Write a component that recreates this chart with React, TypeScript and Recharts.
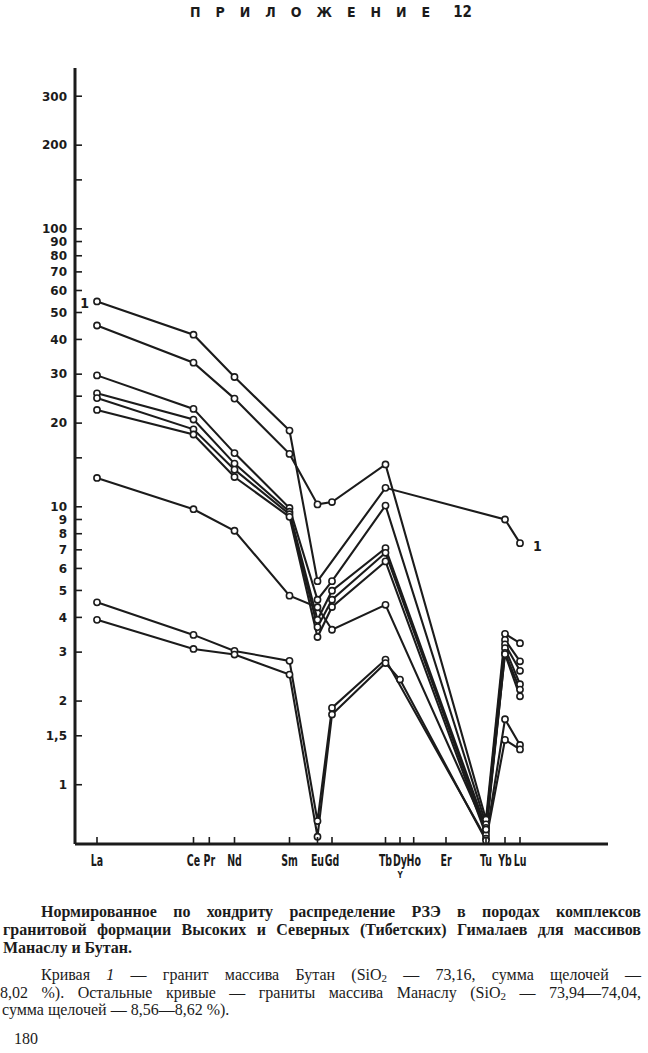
import React from 'react';
import { LineChart, Line, XAxis, YAxis } from 'recharts';

// Rare earth elements on the abscissa (hand-spaced scale of the original diagram)
const elements = ['La', 'Ce', 'Pr', 'Nd', 'Sm', 'Eu', 'Gd', 'Tb', 'Dy', 'Ho', 'Er', 'Tu', 'Yb', 'Lu'];
const elementAbscissa = [22, 118.5, 134.3, 159.5, 214.5, 242.5, 257, 310.5, 325, 338.7, 371, 411, 430, 445];
const elementSubLabels = ['', '', '', '', '', '', '', '', 'Y', '', '', '', '', ''];

// Chondrite-normalised values (null = not determined)
const N = null;
const curve1 = [54.8, 41.6, N, 29.3, 18.8, 5.4, N, 11.7, N, N, N, N, 9.0, 7.4];
const manasluA = [44.9, 33.0, N, 24.5, 15.5, 10.2, 10.4, 14.2, N, N, N, 0.75, 3.49, 3.23];
const manasluB = [29.7, 22.5, N, 15.6, 9.9, 4.63, 5.4, 10.1, N, N, N, 0.72, 3.32, 2.78];
const manasluC = [25.6, 20.6, N, 14.3, 9.6, 3.92, 4.99, 7.1, N, N, N, 0.7, 3.2, 2.57];
const manasluD = [24.6, 19.0, N, 13.6, 9.4, 3.69, 4.63, 6.83, N, N, N, 0.68, 3.1, 2.3];
const manasluE = [22.3, 18.2, N, 12.8, 9.2, 3.4, 4.36, 6.36, N, N, N, 0.66, 2.98, 2.2];
const manasluF = [12.7, 9.8, N, 8.2, 4.79, 4.35, 3.61, 4.44, N, N, N, 0.69, 2.95, 2.08];
const manasluG = [4.53, 3.46, N, 3.03, 2.79, 0.74, 1.89, 2.82, N, N, N, 0.64, 1.72, 1.39];
const manasluH = [3.92, 3.08, N, 2.94, 2.49, 0.65, 1.79, 2.74, 2.39, N, N, 0.63, 1.45, 1.34];

const seriesKeys = ['c1', 'a', 'b', 'c', 'd', 'e', 'f', 'g', 'h'];
const seriesValues = [curve1, manasluA, manasluB, manasluC, manasluD, manasluE, manasluF, manasluG, manasluH];

// Logarithmic ordinate
const yTickValues = [1, 1.5, 2, 3, 4, 5, 6, 7, 8, 9, 10, 15, 20, 25, 30, 40, 50, 60, 70, 80, 90, 100, 150, 200, 300];
const yTickTexts = ['1', '1,5', '2', '3', '4', '5', '6', '7', '8', '9', '10', '', '20', '', '30', '40', '50', '60', '70', '80', '90', '100', '', '200', '300'];

const data = elements.map((el, i) => {
  const row: any = { el, x: elementAbscissa[i] };
  seriesKeys.forEach((k, j) => {
    row[k] = seriesValues[j][i];
  });
  return row;
});

const INK = '#1b1b1b';
const SANS_C = '"DejaVu Sans Condensed", "DejaVu Sans", sans-serif';
const SANS = '"DejaVu Sans", sans-serif';
const SERIF = '"Liberation Serif", "DejaVu Serif", serif';

const XTick = (props: any) => {
  const { x, y, payload } = props;
  const i = elementAbscissa.indexOf(payload.value);
  return (
    <g>
      <line x1={x} y1={y} x2={x} y2={y - 7} stroke={INK} strokeWidth={1.6} />
      <text
        transform={`translate(${x},${y + 22}) scale(0.7,1)`}
        x={0}
        y={0}
        textAnchor="middle"
        fontFamily={SANS_C}
        fontWeight="bold"
        fontSize={15}
        fill={INK}
      >
        {elements[i]}
      </text>
      {elementSubLabels[i] ? (
        <text x={x} y={y + 34} textAnchor="middle" fontFamily={SANS_C} fontWeight="bold" fontSize={8} fill={INK}>
          {elementSubLabels[i]}
        </text>
      ) : null}
    </g>
  );
};

const YTick = (props: any) => {
  const { x, y, payload } = props;
  const i = yTickValues.indexOf(payload.value);
  return (
    <g>
      <line x1={x} y1={y} x2={x + 7} y2={y} stroke={INK} strokeWidth={1.6} />
      <text x={x - 8} y={y} dy="0.36em" textAnchor="end" fontFamily={SANS} fontWeight="bold" fontSize={12} fill={INK}>
        {yTickTexts[i]}
      </text>
    </g>
  );
};

const curveLabel = (p: any) => {
  if (p.index === 0) {
    return (
      <text key="l0" x={p.x - 8} y={p.y + 2} dy="0.36em" textAnchor="end" fontFamily={SANS_C} fontWeight="bold" fontSize={14} fill={INK}>
        1
      </text>
    );
  }
  if (p.index === elements.length - 1) {
    return (
      <text key="l1" x={p.x + 13} y={p.y + 3} dy="0.36em" textAnchor="start" fontFamily={SANS_C} fontWeight="bold" fontSize={14} fill={INK}>
        1
      </text>
    );
  }
  return <g key={'n' + p.index} />;
};

const dotStyle = { r: 3.1, fill: '#fff', stroke: INK, strokeWidth: 1.6 };

const lineStyle: React.CSSProperties = {
  position: 'absolute',
  fontFamily: SERIF,
  fontSize: 16,
  lineHeight: '18px',
  color: INK,
  whiteSpace: 'nowrap',
};

const justified = (left: number, top: number, bold: boolean, content: React.ReactNode) => (
  <div
    style={{
      ...lineStyle,
      left,
      top,
      width: 641 - left,
      textAlign: 'justify',
      textAlignLast: 'justify',
      fontWeight: bold ? 700 : 400,
    }}
  >
    {content}
  </div>
);

const Sub = ({ children }: { children: React.ReactNode }) => (
  <span style={{ fontSize: 11, verticalAlign: '-2px' }}>{children}</span>
);

export default function App() {
  return (
    <div style={{ position: 'absolute', left: 0, top: 0, width: 648, height: 1053, background: '#fff', overflow: 'hidden' }}>
      <div
        style={{
          position: 'absolute',
          left: 190,
          top: 3,
          fontFamily: SANS_C,
          fontWeight: 'bold',
          fontSize: 14,
          letterSpacing: 15,
          color: INK,
          whiteSpace: 'nowrap',
        }}
      >
        ПРИЛОЖЕНИЕ<span style={{ letterSpacing: 0, marginLeft: 8, fontSize: 15 }}>12</span>
      </div>

      <div style={{ position: 'absolute', left: 0, top: 0 }}>
        <LineChart width={648} height={900} data={data} margin={{ top: 68, right: 40, bottom: 16, left: 15 }}>
          <XAxis
            type="number"
            dataKey="x"
            domain={[0, 533]}
            ticks={elementAbscissa}
            interval={0}
            allowDataOverflow
            tick={<XTick />}
            tickLine={false}
            tickSize={0}
            tickMargin={0}
            height={40}
            axisLine={{ stroke: INK, strokeWidth: 3 }}
          />
          <YAxis
            type="number"
            scale="log"
            domain={[0.612, 379]}
            ticks={yTickValues}
            interval={0}
            allowDataOverflow
            tick={<YTick />}
            tickLine={false}
            tickSize={0}
            tickMargin={0}
            width={60}
            axisLine={{ stroke: INK, strokeWidth: 3 }}
          />
          {seriesKeys.map((k) => (
            <Line
              key={k}
              type="linear"
              dataKey={k}
              stroke={INK}
              strokeWidth={2.1}
              dot={dotStyle}
              activeDot={false}
              connectNulls
              isAnimationActive={false}
              label={k === 'c1' ? curveLabel : undefined}
            />
          ))}
        </LineChart>
      </div>

      {justified(41, 903, true, 'Нормированное по хондриту распределение РЗЭ в породах комплексов')}
      {justified(3, 921, true, 'гранитовой формации Высоких и Северных (Тибетских) Гималаев для массивов')}
      <div style={{ ...lineStyle, left: 3, top: 939, fontWeight: 700 }}>Манаслу и Бутан.</div>

      {justified(
        41,
        966,
        false,
        <>
          Кривая <i>1</i> — гранит массива Бутан (SiO<Sub>2</Sub> — 73,16, сумма щелочей —
        </>
      )}
      {justified(
        0,
        984,
        false,
        <>
          8,02 %). Остальные кривые — граниты массива Манаслу (SiO<Sub>2</Sub> — 73,94—74,04,
        </>
      )}
      <div style={{ ...lineStyle, left: 2, top: 1001 }}>сумма щелочей — 8,56—8,62 %).</div>

      <div style={{ ...lineStyle, left: 14, top: 1030 }}>180</div>
    </div>
  );
}
